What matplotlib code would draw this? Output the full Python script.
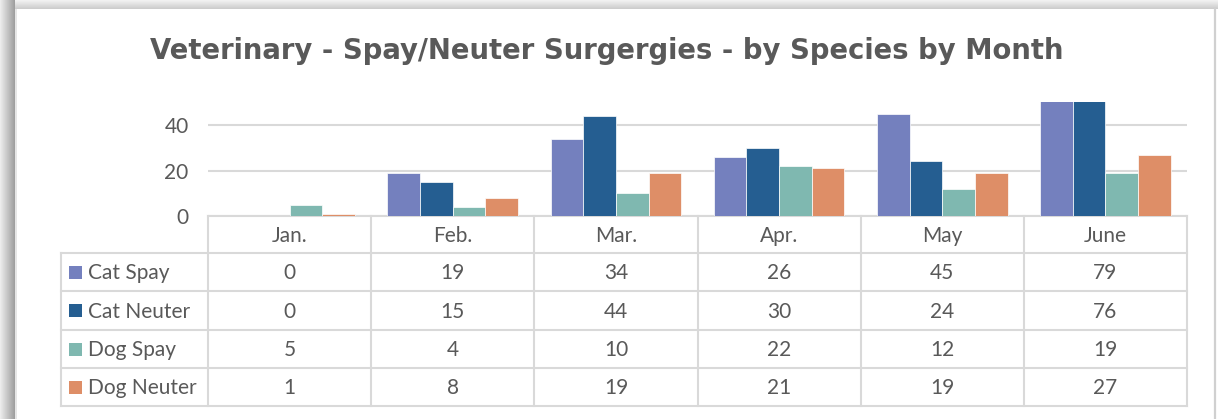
import numpy as np
import matplotlib
matplotlib.use("Agg")
import matplotlib.pyplot as plt
from matplotlib.patches import Rectangle

# data
months = ["Jan.", "Feb.", "Mar.", "Apr.", "May", "June"]
series_names = ["Cat Spay", "Cat Neuter", "Dog Spay", "Dog Neuter"]
cat_spay = [0, 19, 34, 26, 45, 79]
cat_neuter = [0, 15, 44, 30, 24, 76]
dog_spay = [5, 4, 10, 22, 12, 19]
dog_neuter = [1, 8, 19, 21, 19, 27]
yticks = [0, 20, 40]

colors = ["#7480BE", "#255E91", "#7FB8B0", "#DE8E67"]
txt = "#595959"
grid_c = "#D9D9D9"
W, H = 1218, 419
fs = 15

plt.rcParams['font.family'] = ['Lato', 'DejaVu Sans']
fig = plt.figure(figsize=(W / 100, H / 100), dpi=100)

# background / frame in pixel coords
bg = fig.add_axes([0, 0, 1, 1], zorder=-5)
bg.set_xlim(0, W)
bg.set_ylim(H, 0)
bg.axis("off")
left_grad = np.linspace(0.93, 0.62, 30).reshape(1, -1)
bg.imshow(left_grad, cmap="gray", vmin=0, vmax=1, extent=(0, 15, H, 0), aspect="auto")
top_grad = np.linspace(0.95, 0.80, 20).reshape(-1, 1)
bg.imshow(top_grad, cmap="gray", vmin=0, vmax=1, extent=(15, W, 9, 0), aspect="auto")
bg.add_patch(Rectangle((15, 9), 1.5, H - 9, color="#E6E6E6", lw=0))
bg.plot([1215, 1215], [9, H], color="#D0D0D0", lw=1.6)
bg.set_xlim(0, W)
bg.set_ylim(H, 0)

fig.text(607 / W, 1 - 51 / H, "Veterinary - Spay/Neuter Surgergies - by Species by Month",
         ha="center", va="center", fontsize=19.8, fontweight="bold", color=txt,
         family=["DejaVu Sans"])

# bar axes
x0, x1, y0, ytop = 208, 1187, 216, 102.25
ax = fig.add_axes([x0 / W, 1 - y0 / H, (x1 - x0) / W, (y0 - ytop) / H])
data = [cat_spay, cat_neuter, dog_spay, dog_neuter]
x = np.arange(len(months))
bw = 0.2
for i, (vals, c) in enumerate(zip(data, colors)):
    ax.bar(x + (i - 1.5) * bw, vals, bw, color=c, edgecolor="white", linewidth=0.5, zorder=3)
ax.set_xlim(-0.5, len(months) - 0.5)
ax.set_ylim(0, 50)
ax.set_yticks(yticks)
ax.set_xticks([])
ax.yaxis.grid(True, color=grid_c, lw=1.5, zorder=0)
ax.tick_params(axis="y", length=0, pad=14, labelsize=fs, labelcolor=txt)
for s in ["top", "right", "left"]:
    ax.spines[s].set_visible(False)
ax.spines["bottom"].set_color(grid_c)
ax.spines["bottom"].set_linewidth(1.5)

# data table
tb = fig.add_axes([0, 0, 1, 1], zorder=2)
tb.set_xlim(0, W)
tb.set_ylim(H, 0)
tb.axis("off")
lc = dict(color=grid_c, lw=1.5)
colw = (x1 - x0) / len(months)
rows_y = [216, 253, 291, 330, 368, 406]
lab_x = 61
for k in range(len(months) + 1):
    xx = x0 + k * colw
    tb.plot([xx, xx], [rows_y[0], rows_y[-1]], **lc)
for yy in rows_y[1:]:
    tb.plot([lab_x, x1], [yy, yy], **lc)
tb.plot([lab_x, lab_x], [rows_y[1], rows_y[-1]], **lc)

for k, m in enumerate(months):
    tb.text(x0 + (k + 0.5) * colw, (rows_y[0] + rows_y[1]) / 2 + 1, m, ha="center", va="center",
            fontsize=fs, color=txt)
for r, (name, vals, c) in enumerate(zip(series_names, data, colors)):
    yc = (rows_y[r + 1] + rows_y[r + 2]) / 2
    tb.add_patch(Rectangle((69, yc - 6.5), 13, 13, color=c, lw=0))
    tb.text(88, yc + 1, name, ha="left", va="center", fontsize=fs, color=txt)
    for k, v in enumerate(vals):
        tb.text(x0 + (k + 0.5) * colw, yc + 1, str(v), ha="center", va="center", fontsize=fs, color=txt)

fig.savefig("out.png", dpi=100, facecolor="white")
